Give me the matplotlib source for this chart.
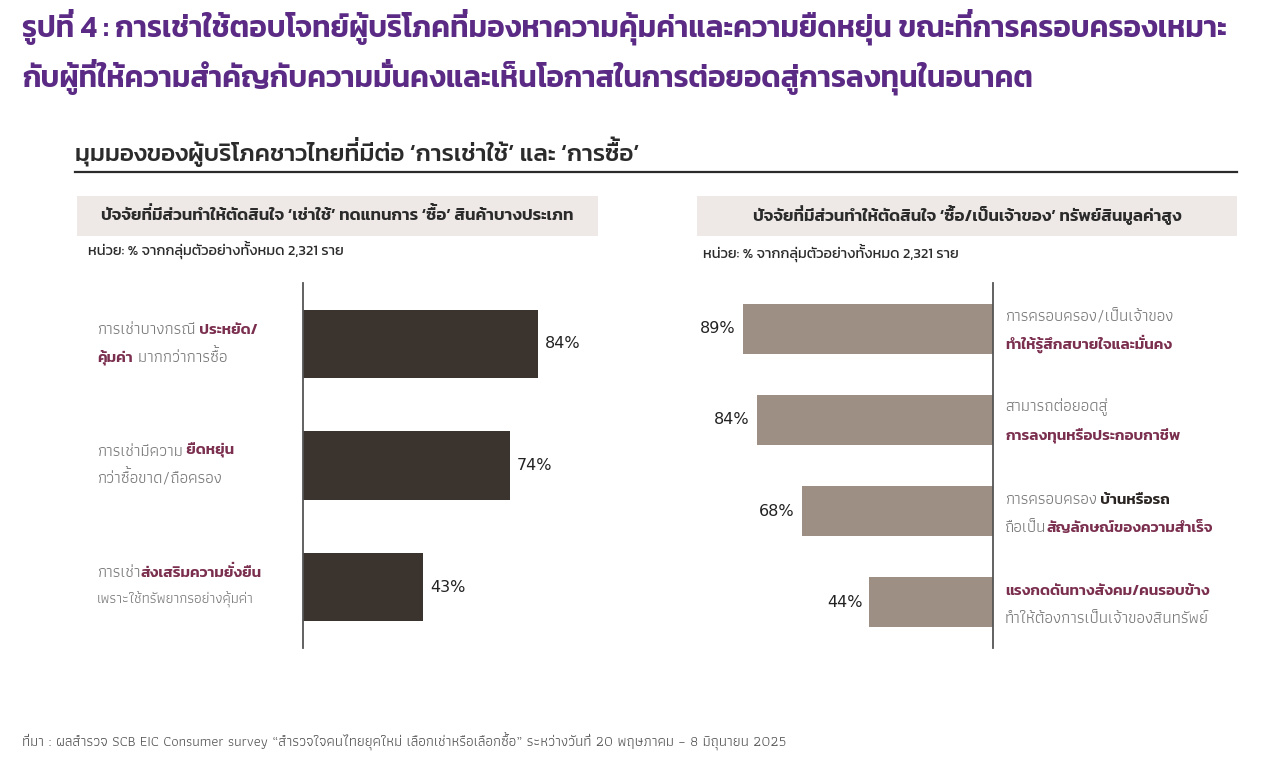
import matplotlib
matplotlib.use("Agg")
import matplotlib.pyplot as plt
from matplotlib.transforms import blended_transform_factory, offset_copy

W, H = 1262, 762

# ข้อมูล
left_values = [84, 74, 43]
left_labels = [
    [[("การเช่าบางกรณี", "g"), (" ประหยัด/", "m")],
     [("คุ้มค่า", "m"), (" มากกว่าการซื้อ", "g")]],
    [[("การเช่ามีความ", "g"), (" ยืดหยุ่น", "m")],
     [("กว่าซื้อขาด/ถือครอง", "g")]],
    [[("การเช่า", "g"), ("ส่งเสริมความยั่งยืน", "m")],
     [("เพราะใช้ทรัพยากรอย่างคุ้มค่า", "s")]],
]
right_values = [89, 84, 68, 44]
right_labels = [
    [[("การครอบครอง/เป็นเจ้าของ", "g")],
     [("ทำให้รู้สึกสบายใจและมั่นคง", "m")]],
    [[("สามารถต่อยอดสู่", "g")],
     [("การลงทุนหรือประกอบกาชีพ", "m")]],
    [[("การครอบครอง", "g"), (" บ้านหรือรถ", "k")],
     [("ถือเป็น", "g"), ("สัญลักษณ์ของความสำเร็จ", "m")]],
    [[("แรงกดดันทางสังคม/คนรอบข้าง", "m")],
     [("ทำให้ต้องการเป็นเจ้าของสินทรัพย์", "g")]],
]

title_lines = ["รูปที่ 4 : การเช่าใช้ตอบโจทย์ผู้บริโภคที่มองหาความคุ้มค่าและความยืดหยุ่น ขณะที่การครอบครองเหมาะ",
               "กับผู้ที่ให้ความสำคัญกับความมั่นคงและเห็นโอกาสในการต่อยอดสู่การลงทุนในอนาคต"]
subtitle = "มุมมองของผู้บริโภคชาวไทยที่มีต่อ ‘การเช่าใช้’ และ ‘การซื้อ’"
left_header = "ปัจจัยที่มีส่วนทำให้ตัดสินใจ ‘เช่าใช้’ ทดแทนการ ‘ซื้อ’ สินค้าบางประเภท"
right_header = "ปัจจัยที่มีส่วนทำให้ตัดสินใจ ‘ซื้อ/เป็นเจ้าของ’ ทรัพย์สินมูลค่าสูง"
unit_text = "หน่วย: % จากกลุ่มตัวอย่างทั้งหมด 2,321 ราย"
source_text = "ที่มา : ผลสำรวจ SCB EIC Consumer survey “สำรวจใจคนไทยยุคใหม่ เลือกเช่าหรือเลือกซื้อ” ระหว่างวันที่ 20 พฤษภาคม – 8 มิถุนายน 2025"

PURPLE = "#5a2a85"
MAROON = "#7b2f4f"
GRAY = "#7a7a7a"
DARK = "#2b2b2b"
BOX = "#eee9e7"
BAR_DARK = "#3b332d"
BAR_TAUPE = "#9e8f84"

TH = ["Athiti", "DejaVu Sans"]
TH_BOLD = ["Kanit", "DejaVu Sans"]

styles = {
    "g": dict(color=GRAY, fontsize=12, family=TH, weight="normal"),
    "s": dict(color=GRAY, fontsize=10.5, family=TH, weight="normal"),
    "m": dict(color=MAROON, fontsize=11, family=TH_BOLD, weight="semibold"),
    "k": dict(color="#2a2522", fontsize=11, family=TH_BOLD, weight="semibold"),
    "title": dict(color=PURPLE, fontsize=21.3, family=TH_BOLD, weight="semibold"),
    "sub": dict(color=DARK, fontsize=17.5, family=TH_BOLD, weight="medium"),
    "head": dict(color=DARK, fontsize=12.2, family=TH_BOLD, weight="semibold"),
    "unit": dict(color=DARK, fontsize=10.5, family=TH_BOLD, weight="normal"),
    "src": dict(color="#555555", fontsize=10.5, family=TH, weight="normal"),
}

# วรรณยุกต์ที่ซ้อนบนสระบน: matplotlib วางทับสระ จึงแยกออกมาวางยกขึ้นเอง
UPPER = set("\u0e31\u0e34\u0e35\u0e36\u0e37\u0e47")
TONES = set("\u0e48\u0e49\u0e4a\u0e4b\u0e4c")


def strip_marks(s):
    out, marks = "", []
    for ch in s:
        if ch in TONES and out and out[-1] in UPPER:
            marks.append((len(out), ch))
        else:
            out += ch
    return out, marks


fig = plt.figure(figsize=(W / 100, H / 100), dpi=100)
bg = fig.add_axes([0, 0, 1, 1])
bg.set_xlim(0, W)
bg.set_ylim(H, 0)
bg.axis("off")


def add_marks(t, clean, marks, props):
    em = props["fontsize"] * fig.dpi / 72.0
    for k, ch in marks:
        # ข้อความล่องหนไว้วัดตำแหน่งปลายพยางค์
        probe = bg.annotate(clean[:k], xy=(0, 0), xycoords=t, ha="left",
                            va="bottom", alpha=0, **props)
        bg.annotate(ch, xy=(1, 0), xycoords=probe, xytext=(0, 0.24 * em),
                    textcoords="offset pixels", ha="right", va="bottom", **props)


def chain(x, y, runs, transform=None, va="center"):
    transform = transform or bg.transData
    prev = None
    made = []
    for text, key in runs:
        props = styles[key]
        clean, marks = strip_marks(text)
        if prev is None:
            t = bg.text(x, y, clean, transform=transform, ha="left", va=va, **props)
        else:
            t = bg.annotate(clean, xy=(1, 0), xycoords=prev, ha="left",
                            va="bottom", **props)
        add_marks(t, clean, marks, props)
        made.append(t)
        prev = t
    return made


# หัวเรื่อง
chain(22, 28, [(title_lines[0], "title")])
chain(22, 78, [(title_lines[1], "title")])
chain(75, 154, [(subtitle, "sub")])
bg.plot([75, 1237], [172, 172], color=DARK, lw=1.6)

# กล่องหัวข้อ
bg.add_patch(plt.Rectangle((77, 196), 521, 40, color=BOX, lw=0))
bg.add_patch(plt.Rectangle((697, 196), 540, 40, color=BOX, lw=0))
heads = [chain(0, 216, [(left_header, "head")]), chain(0, 216, [(right_header, "head")])]
chain(88, 251, [(unit_text, "unit")])
chain(703, 254, [(unit_text, "unit")])
chain(22, 743, [(source_text, "src")])

# แกนแท่ง
ax_l = fig.add_axes([303 / W, 1 - 648 / H, 280 / W, 365 / H])
ax_r = fig.add_axes([(993 - 281) / W, 1 - 648 / H, 281 / W, 365 / H])

yl = list(range(len(left_values)))
ax_l.barh(yl, left_values, height=0.56, color=BAR_DARK)
ax_l.set_xlim(0, 100)
ax_l.set_ylim(len(left_values) - 0.5, -0.5)

yr = list(range(len(right_values)))
ax_r.barh(yr, right_values, height=0.55, color=BAR_TAUPE)
ax_r.set_xlim(100, 0)
ax_r.set_ylim(len(right_values) - 0.5, -0.5)

for ax, side in ((ax_l, "left"), (ax_r, "right")):
    ax.set_facecolor("none")
    for s in ax.spines.values():
        s.set_visible(False)
    ax.spines[side].set_visible(True)
    ax.spines[side].set_color("#555555")
    ax.spines[side].set_linewidth(1.3)
    ax.set_xticks([])
    ax.set_yticks([])

for i, v in enumerate(left_values):
    ax_l.annotate(f"{v}%", xy=(v, i), xytext=(7, 0), textcoords="offset pixels",
                  ha="left", va="center", fontsize=11.5, color="#222222",
                  family=["DejaVu Sans"])
for i, v in enumerate(right_values):
    ax_r.annotate(f"{v}%", xy=(v, i), xytext=(-7, 0), textcoords="offset pixels",
                  ha="right", va="center", fontsize=11.5, color="#222222",
                  family=["DejaVu Sans"])


def label_line(x, i, ax, dy, runs):
    trans = offset_copy(blended_transform_factory(bg.transData, ax.transData),
                        fig=fig, y=dy, units="dots")
    chain(x, i, runs, transform=trans, va="bottom")


for i, lines in enumerate(left_labels):
    label_line(97, i, ax_l, 7, lines[0])
    label_line(97, i, ax_l, -21, lines[1])

for i, lines in enumerate(right_labels):
    label_line(1005, i, ax_r, 4, lines[0])
    label_line(1005, i, ax_r, -24, lines[1])

# จัดหัวข้อกล่องให้อยู่กึ่งกลาง
renderer = fig.canvas.get_renderer()
for parts, cx in zip(heads, (337.5, 967)):
    exts = [p.get_window_extent(renderer) for p in parts]
    x0 = min(e.x0 for e in exts)
    x1 = max(e.x1 for e in exts)
    parts[0].set_x(cx - (x1 - x0) / 2)

fig.savefig("out.png", dpi=100)
